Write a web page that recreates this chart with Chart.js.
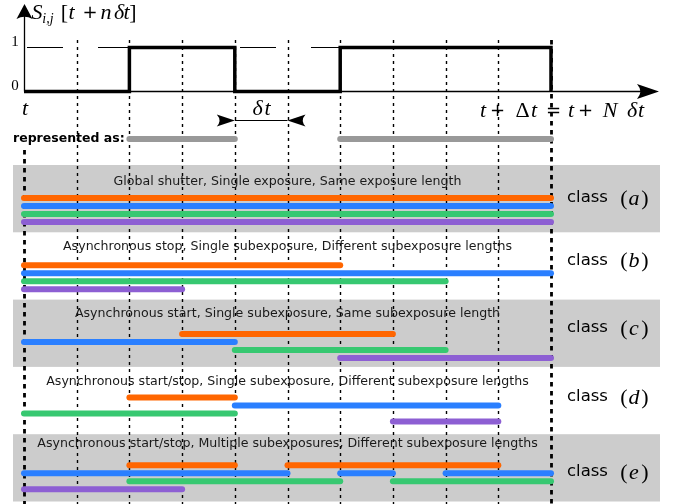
<!DOCTYPE html>
<html>
<head>
<meta charset="utf-8">
<script src="https://cdn.jsdelivr.net/npm/chart.js@4.4.0/dist/chart.umd.min.js"></script>
<style>
  html, body { margin: 0; padding: 0; background: #fff; }
  #wrap { width: 673px; height: 504px; }
</style>
</head>
<body>
<div id="wrap"><canvas id="myChart" width="673" height="504"></canvas></div>
<script>
// number of slots, Δt = N δt
const N = 10;
// S_ij[t + n δt], n = 0..N-1
const signal = [0, 0, 1, 1, 0, 0, 1, 1, 1, 1];

const classNames = ['a', 'b', 'c', 'd', 'e'];
const classTitles = [
  'Global shutter, Single exposure, Same exposure length',
  'Asynchronous stop, Single subexposure, Different subexposure lengths',
  'Asynchronous start, Single subexposure, Same subexposure length',
  'Asynchronous start/stop, Single subexposure, Different subexposure lengths',
  'Asynchronous start/stop, Multiple subexposures, Different subexposure lengths'
];

// subexposures [start, stop] in slots, one list per class
const orangeExp = [[[0, 10]], [[0, 6]], [[3, 7]], [[2, 4]], [[2, 4], [5, 9]]];
const blueExp   = [[[0, 10]], [[0, 10]], [[0, 4]], [[4, 9]], [[0, 5], [6, 7], [8, 10]]];
const greenExp  = [[[0, 10]], [[0, 8]], [[4, 8]], [[0, 4]], [[2, 6], [7, 10]]];
const purpleExp = [[[0, 10]], [[0, 3]], [[6, 10]], [[7, 9]], [[0, 3]]];

const channels = [orangeExp, blueExp, greenExp, purpleExp];
const channelColors = ['#ff6600', '#2a7fff', '#37c871', '#8d5fd3'];

// layout (pixels)
const W = 673, H = 504;
const X0 = 24, SLOT = 52.7;
const LEVEL0 = 91.5, LEVEL1 = 47.5;
const BAND_TOP = 165, BAND_H = 67.3, BAND_L = 13, BAND_R = 660;
const titleOff = [16.5, 14, 14.5, 15, 10];
const laneOff = [33, 33, 34.4, 30.5, 31];
const labelOff = [33, 28, 28.5, 30, 37.5];
const LANE = 8;
const REPR_Y = 139;

const unit = LEVEL0 - LEVEL1;
const ysMax = 1 + LEVEL1 / unit;

// "represented as" runs where the signal is 1
const runs = [];
signal.forEach((v, n) => {
  if (v && (n === 0 || !signal[n - 1])) runs.push([n, n + 1]);
  else if (v) runs[runs.length - 1][1] = n + 1;
});

const stepData = signal.map((v, n) => ({ x: n, y: v }));
stepData.push({ x: N, y: signal[N - 1] }, { x: N, y: 0 });

const datasets = [];
datasets.push({
  data: stepData, yAxisID: 'ys', showLine: true, stepped: true,
  borderColor: '#000', borderWidth: 3.5, pointRadius: 0,
  borderJoinStyle: 'miter', borderCapStyle: 'butt'
});
datasets.push({
  data: [{ x: 0, y: 1 }, { x: N, y: 1 }], yAxisID: 'ys', showLine: true,
  borderColor: '#000', borderWidth: 1.1, pointRadius: 0,
  borderDash: [36, 35], borderDashOffset: 68
});
runs.forEach(r => datasets.push({
  data: [{ x: r[0], y: REPR_Y }, { x: r[1], y: REPR_Y }], yAxisID: 'yr', showLine: true,
  borderColor: '#999999', borderWidth: 6, borderCapStyle: 'round', pointRadius: 0
}));
classNames.forEach((c, ci) => {
  const top = BAND_TOP + ci * BAND_H;
  channels.forEach((ch, k) => {
    const y = top + laneOff[ci] + k * LANE;
    ch[ci].forEach(seg => datasets.push({
      data: [{ x: seg[0], y }, { x: seg[1], y }], yAxisID: 'yr', showLine: true,
      borderColor: channelColors[k], borderWidth: 6, borderCapStyle: 'round', pointRadius: 0
    }));
  });
});

const MI = 'italic 22px "Liberation Serif"';
const MR = '22px "Liberation Serif"';
const OP = '18px "DejaVu Sans"';
const SUB = 'italic 14px "Liberation Serif"';

// math glyphs placed one by one, centred: [text, font, cx, dy]
function glyphs(ctx, list, y) {
  ctx.textAlign = 'center';
  list.forEach(g => {
    ctx.font = g[1];
    ctx.fillText(g[0], g[2], y + (g[3] || 0));
  });
  ctx.textAlign = 'left';
}

function arrowHead(ctx, tx, ty, dir, len, half) {
  ctx.save();
  ctx.translate(tx, ty);
  ctx.rotate(dir);
  ctx.beginPath();
  ctx.moveTo(0, 0);
  ctx.lineTo(-len, -half);
  ctx.quadraticCurveTo(-len * 0.7, 0, -len, half);
  ctx.closePath();
  ctx.fill();
  ctx.restore();
}

const backdrop = {
  id: 'backdrop',
  beforeDatasetsDraw(chart) {
    const ctx = chart.ctx;
    const xs = chart.scales.x, ys = chart.scales.ys;
    ctx.save();
    ctx.fillStyle = '#cccccc';
    classNames.forEach((c, ci) => {
      if (ci % 2) return;
      const top = BAND_TOP + ci * BAND_H;
      ctx.fillRect(BAND_L, top, BAND_R - BAND_L, Math.min(BAND_H, H - top));
    });
    ctx.strokeStyle = '#000';
    for (let n = 0; n <= N; n++) {
      const px = Math.round(xs.getPixelForValue(n)) + 0.5;
      const edge = n === 0 || n === N;
      ctx.lineWidth = edge ? 2.8 : 1.4;
      ctx.setLineDash(edge ? [4.5, 4.5] : [3, 4]);
      ctx.beginPath();
      ctx.moveTo(px, n === 0 ? 150 : 40);
      ctx.lineTo(px, H);
      ctx.stroke();
    }
    ctx.setLineDash([]);
    // axes
    const ax = xs.getPixelForValue(0) + 0.5, ay = ys.getPixelForValue(0);
    ctx.lineWidth = 1.3;
    ctx.beginPath();
    ctx.moveTo(ax, ay); ctx.lineTo(645, ay);
    ctx.moveTo(ax, ay); ctx.lineTo(ax, 15);
    ctx.stroke();
    ctx.fillStyle = '#000';
    arrowHead(ctx, 659, ay, 0, 22, 7.5);
    arrowHead(ctx, ax, 4, -Math.PI / 2, 15, 8);
    ctx.restore();
  },
  afterDatasetsDraw(chart) {
    const ctx = chart.ctx;
    const xs = chart.scales.x, ys = chart.scales.ys, yr = chart.scales.yr;
    ctx.save();
    ctx.fillStyle = '#000';
    ctx.strokeStyle = '#000';
    ctx.textBaseline = 'alphabetic';
    ctx.textAlign = 'left';
    // y label S_{i,j}[t + n δt]
    glyphs(ctx, [
      ['S', MI, 37], ['i,j', SUB, 48, 4], ['[', MR, 64.5], ['t', MI, 71.5],
      ['+', OP, 90, -1], ['n', MI, 106], ['δ', MI, 119], ['t', MI, 126.5], [']', MR, 133]
    ], 19);
    // ticks
    ctx.font = '15px "Liberation Serif"';
    ctx.textAlign = 'center';
    ctx.fillText('1', 15, ys.getPixelForValue(1) - 2);
    ctx.fillText('0', 15, ys.getPixelForValue(0) - 2);
    ctx.textAlign = 'left';
    glyphs(ctx, [['t', MI, 25]], 115);
    glyphs(ctx, [['δ', MI, 257.5], ['t', MI, 267.5]], 115);
    glyphs(ctx, [
      ['t', MI, 483], ['+', OP, 497.5, -1], ['Δ', MR, 522.5], ['t', MI, 534], ['=', OP, 553.5, -1],
      ['t', MI, 571], ['+', OP, 585.5, -1], ['N', MI, 610], ['δ', MI, 632], ['t', MI, 641]
    ], 117);
    // δt arrows
    const a = xs.getPixelForValue(4), b = xs.getPixelForValue(5);
    ctx.lineWidth = 1.2;
    ctx.beginPath();
    ctx.moveTo(a, 120.5); ctx.lineTo(b, 120.5);
    ctx.stroke();
    arrowHead(ctx, a, 120.5, 0, 18, 6);
    arrowHead(ctx, b, 120.5, Math.PI, 18, 6);
    // represented as
    ctx.font = 'bold 12.5px "DejaVu Sans"';
    ctx.textBaseline = 'middle';
    ctx.fillText('represented as:', 13, REPR_Y);
    // class titles and labels
    classNames.forEach((c, ci) => {
      const top = BAND_TOP + ci * BAND_H;
      ctx.fillStyle = '#1a1a1a';
      ctx.font = '12.6px "DejaVu Sans"';
      ctx.textAlign = 'center';
      ctx.fillText(classTitles[ci], xs.getPixelForValue(N / 2), yr.getPixelForValue(top + titleOff[ci]));
      ctx.textAlign = 'left';
      ctx.fillStyle = '#000';
      const ly = yr.getPixelForValue(top + labelOff[ci]);
      ctx.font = '16.5px "DejaVu Sans"';
      ctx.fillText('class', 567, ly);
      ctx.textBaseline = 'alphabetic';
      glyphs(ctx, [['(', MR, 624], [c, MI, 634], [')', MR, 645]], ly + 7);
      ctx.textBaseline = 'middle';
    });
    ctx.restore();
  }
};

new Chart(document.getElementById('myChart'), {
  type: 'scatter',
  data: { datasets },
  options: {
    responsive: false,
    animation: false,
    devicePixelRatio: 1,
    layout: { padding: 0 },
    plugins: { legend: { display: false }, tooltip: { enabled: false } },
    scales: {
      x: { type: 'linear', display: false, min: -X0 / SLOT, max: (W - X0) / SLOT },
      y: { display: false },
      ys: { type: 'linear', display: false, min: ysMax - H / unit, max: ysMax },
      yr: { type: 'linear', display: false, reverse: true, min: 0, max: H }
    }
  },
  plugins: [backdrop]
});
</script>
</body>
</html>
